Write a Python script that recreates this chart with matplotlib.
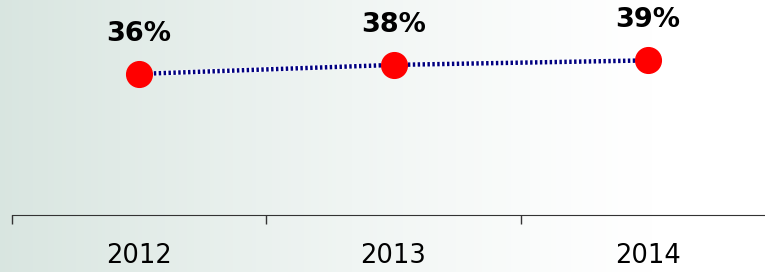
import matplotlib.pyplot as plt
import numpy as np

# chart data
years = ['2012', '2013', '2014']
shares = [36, 38, 39]
share_labels = ['36%', '38%', '39%']

fig = plt.figure(figsize=(7.65, 2.72), dpi=100)

# soft greenish background fading to white on the right
bg = fig.add_axes([0, 0, 1, 1])
gx = np.linspace(0, 1, 300)
gy = np.linspace(0, 1, 100)
X, Y = np.meshgrid(gx, gy)
fade = np.clip(1 - X / 0.85, 0, 1) ** 1.2
r = 1 - 0.15 * fade
g = 1 - 0.10 * fade
b = 1 - 0.12 * fade
bg.imshow(np.dstack([r, g, b]), aspect='auto', extent=[0, 1, 0, 1])
bg.axis('off')

ax = fig.add_axes([12 / 765, 57 / 272, 763 / 765, 215 / 272])
ax.patch.set_visible(False)
x = np.arange(len(years))

# checkered navy line: white underlay + short navy dashes
ax.plot(x, shares, color='white', lw=3.6, zorder=2)
ax.plot(x, shares, color='#000080', lw=3.2, dashes=(0.55, 0.55), zorder=3)
ax.plot(x, shares, 'o', color='#ff0000', markersize=18.5, zorder=4)

for xi, v, lab in zip(x, shares, share_labels):
    ax.annotate(lab, (xi, v), xytext=(0, 29), textcoords='offset points',
                ha='center', va='center', fontsize=19.5, fontweight='bold')

ax.set_xlim(-0.5, 2.5)
ax.set_ylim(4.7, 52.4)
ax.set_xticks([-0.5, 0.5, 1.5, 2.5])
ax.set_xticklabels([])
ax.set_xticks(x, minor=True)
ax.set_xticklabels(years, minor=True, fontsize=18.5)
ax.tick_params(axis='x', which='major', direction='out', length=6.5, width=1, color='#333333')
ax.tick_params(axis='x', which='minor', length=0, pad=20)
ax.set_yticks([])
for side in ['top', 'right', 'left']:
    ax.spines[side].set_visible(False)
ax.spines['bottom'].set_color('#333333')

fig.savefig('out.png', dpi=100)
